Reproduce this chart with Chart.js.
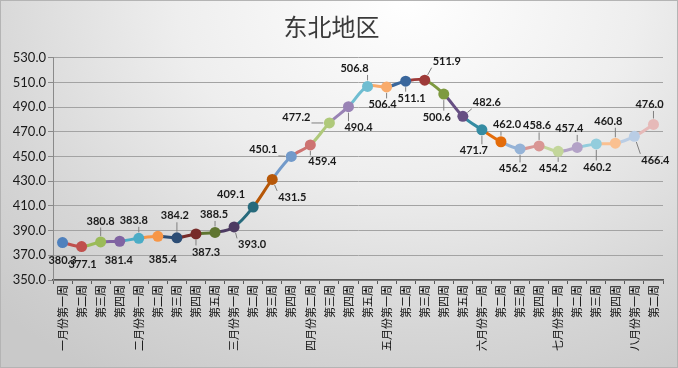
<!DOCTYPE html>
<html><head><meta charset="utf-8">
<script src="https://cdn.jsdelivr.net/npm/chart.js@4/dist/chart.umd.min.js"></script>
<style>
html,body{margin:0;padding:0;background:#fff;}
#wrap{position:relative;width:678px;height:368px;box-sizing:border-box;
background:radial-gradient(ellipse 85% 120% at 60% 0%, #ffffff 0%, #eeeeee 40%, #d6d6d6 75%, #c9c9c9 100%);
box-shadow: inset 0 0 0 1px #b4b4b4;}
canvas{display:block}
</style></head><body>
<div id="wrap"><canvas id="c" width="678" height="368"></canvas></div>
<script>
const chartTitle = '东北地区';
const categories = [
  '一月份第一周','第二周','第三周','第四周',
  '二月份第一周','第二周','第三周','第四周','第五周',
  '三月份第一周','第二周','第三周','第四周',
  '四月份第二周','第三周','第四周','第五周',
  '五月份第一周','第二周','第三周','第四周','第五周',
  '六月份第一周','第二周','第三周','第四周',
  '七月份第一周','第二周','第三周','第四周',
  '八月份第一周','第二周'
];
const values = [
  380.3, 377.1, 380.8, 381.4,
  383.8, 385.4, 384.2, 387.3, 388.5,
  393.0, 409.1, 431.5, 450.1,
  459.4, 477.2, 490.4, 506.8,
  506.4, 511.1, 511.9, 500.6, 482.6,
  471.7, 462.0, 456.2, 458.6,
  454.2, 457.4, 460.2, 460.8,
  466.4, 476.0
];
const yMin = 350, yMax = 530, yStep = 20;

// styling (not data)
const pointColors = [
  '#4F81BD','#C0504D','#9BBB59','#8064A2','#4BACC6','#F79646',
  '#2C4D75','#772C2A','#5F7530','#4D3B62','#276A7C','#B65708',
  '#729ACA','#CD7371','#AFC97A','#9983B5','#6FBDD1','#F9AB6B',
  '#3A679C','#9E3A38','#7E9A40','#664F83','#358CA3','#E46C0A',
  '#95B3D7','#D99694','#C3D69B','#B3A2C7','#93CDDD','#FAC090',
  '#B9CDE5','#E6B9B8'
];
const labelPlacement = [
  [0,18,0],[1,18,0],[0,-21,1],[-1,19,0],[-5,-18,1],[5,23,0],[-2,-22,1],[10,18,1],
  [-1,-18,1],[18,18,1],[-22,-13,0],[20,18,1],[-28,-7,1],[12,17,1],[-33,-6,1],[10,21,1],
  [-13,-18,1],[-4,18,1],[6,17,1],[22,-19,1],[-7,23,1],[24,-14,1],[-8,21,1],[6,-17,1],
  [-7,20,1],[-2,-20,1],[-5,17,1],[-8,-19,1],[1,23,1],[-7,-22,1],[21,24,1],[-4,-20,1]
];

const labelPlugin = {
  id: 'valueLabels',
  afterDatasetsDraw(chart) {
    const ctx = chart.ctx;
    const meta = chart.getDatasetMeta(0);
    ctx.save();
    ctx.font = 'bold 11px Lato, "Liberation Sans", sans-serif';
    ctx.textAlign = 'center';
    ctx.textBaseline = 'middle';
    meta.data.forEach((pt, i) => {
      const [dx, dy, lead] = labelPlacement[i];
      const txt = values[i].toFixed(1);
      const cx = pt.x + dx, cy = pt.y + dy;
      const w = ctx.measureText(txt).width, h = 11;
      if (lead) {
        const x0 = cx - w/2 - 1, x1 = cx + w/2 + 1, y0 = cy - h/2 - 1, y1 = cy + h/2 + 1;
        const sx = Math.min(Math.max(pt.x, x0), x1);
        const sy = Math.min(Math.max(pt.y, y0), y1);
        const vx = pt.x - sx, vy = pt.y - sy;
        const len = Math.hypot(vx, vy);
        if (len > 7) {
          const ex = pt.x - vx/len*6, ey = pt.y - vy/len*6;
          ctx.strokeStyle = '#7f7f7f';
          ctx.lineWidth = 1;
          ctx.beginPath();
          ctx.moveTo(sx, sy);
          ctx.lineTo(ex, ey);
          ctx.stroke();
        }
      }
      ctx.fillStyle = '#1a1a1a';
      ctx.fillText(txt, cx, cy);
    });
    ctx.restore();
  }
};

new Chart(document.getElementById('c'), {
  type: 'line',
  data: {
    labels: categories,
    datasets: [{
      data: values,
      borderWidth: 3,
      borderColor: '#4F81BD',
      segment: { borderColor: c => pointColors[c.p1DataIndex] },
      pointBackgroundColor: pointColors,
      pointBorderColor: pointColors,
      pointBorderWidth: 0,
      pointRadius: 5.5,
      pointHoverRadius: 5.5,
      tension: 0.35,
      cubicInterpolationMode: 'default'
    }]
  },
  options: {
    responsive: false,
    animation: false,
    events: [],
    layout: { padding: { left: 0, right: 15, top: 0, bottom: 0 } },
    plugins: {
      legend: { display: false },
      tooltip: { enabled: false },
      title: {
        display: true,
        text: chartTitle,
        color: '#3a3a3a',
        font: { family: '"Noto Sans CJK SC"', size: 24, weight: 'normal', lineHeight: 1.2 },
        padding: { top: 12, bottom: 17 }
      }
    },
    scales: {
      x: {
        offset: true,
        grid: { display: true, offset: true, drawOnChartArea: false, drawTicks: true, tickLength: 4, color: '#595959', tickColor: '#595959' },
        border: { display: true, color: '#595959', width: 1.5 },
        ticks: {
          autoSkip: false, minRotation: 90, maxRotation: 90, padding: 1,
          color: '#111',
          font: { family: '"Noto Sans CJK SC"', size: 11 }
        },
        afterFit: s => { s.height = 88; }
      },
      y: {
        min: yMin, max: yMax,
        grid: { color: '#a3a3a3', lineWidth: 1, tickLength: 5, tickColor: '#8a8a8a' },
        border: { display: true, color: '#8a8a8a', width: 1 },
        ticks: {
          stepSize: yStep, padding: 2, color: '#1a1a1a',
          font: { family: 'Lato, "Liberation Sans", sans-serif', size: 13 },
          callback: v => Number(v).toFixed(1)
        },
        afterFit: s => { s.width = 53; }
      }
    }
  },
  plugins: [labelPlugin]
});
</script>
</body></html>
